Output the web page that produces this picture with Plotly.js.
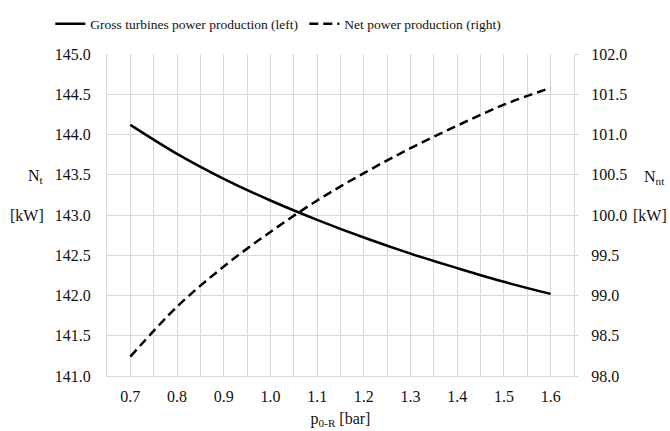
<!DOCTYPE html>
<html>
<head>
<meta charset="utf-8">
<script src="https://cdn.plot.ly/plotly-3.0.1.min.js"></script>
<style>html,body{margin:0;padding:0;background:#fff;}#chart{width:670px;height:431px;}</style>
</head>
<body>
<div id="chart"></div>
<script>
// Data
var pressure = [0.7, 0.8, 0.9, 1.0, 1.1, 1.2, 1.3, 1.4, 1.5, 1.6];
var grossPower = [144.12, 143.76, 143.45, 143.18, 142.94, 142.72, 142.52, 142.34, 142.17, 142.02];
var netPower = [98.24, 98.86, 99.36, 99.79, 100.18, 100.52, 100.83, 101.11, 101.37, 101.58];
var seriesNames = ["Gross turbines power production (left)", "Net power production (right)"];
var xTitle = "p<sub>0-R</sub> [bar]";
var leftTitle = ["N<sub>t</sub>", "[kW]"];
var rightTitle = ["N<sub>nt</sub>", "[kW]"];

var font = {family: "'Liberation Serif', 'Times New Roman', serif", size: 16, color: "#111"};
var legendFont = {family: "'Liberation Serif', 'Times New Roman', serif", size: 13.5, color: "#111"};
var grid = "#d9d9d9";

var traces = [
  {x: pressure, y: grossPower, name: seriesNames[0], type: "scatter", mode: "lines",
   line: {color: "#000", width: 2.5, shape: "spline", smoothing: 1}, yaxis: "y"},
  {x: pressure, y: netPower, name: seriesNames[1], type: "scatter", mode: "lines",
   line: {color: "#000", width: 2.5, dash: "9px,5px", shape: "spline", smoothing: 1}, yaxis: "y2"}
];

var layout = {
  width: 670, height: 431,
  margin: {l: 107, r: 96, t: 54, b: 55, autoexpand: false},
  paper_bgcolor: "#fff", plot_bgcolor: "#fff",
  font: font,
  showlegend: true,
  legend: {orientation: "h", x: -0.1214, xanchor: "left", y: 1.093, yanchor: "middle",
           font: legendFont, bgcolor: "rgba(0,0,0,0)", itemwidth: 30, tracegroupgap: 0,
           entrywidth: 209, entrywidthmode: "pixels"},
  xaxis: {
    range: [0.65, 1.65], tick0: 0.7, dtick: 0.1, tickformat: ".1f",
    showgrid: true, gridcolor: grid, gridwidth: 1,
    minor: {tick0: 0.65, dtick: 0.05, showgrid: true, gridcolor: grid, gridwidth: 1},
    showline: true, linecolor: grid, linewidth: 1, zeroline: false,
    ticks: "", ticklabelstandoff: 6,
    title: {text: xTitle, font: font, standoff: 8}
  },
  yaxis: {
    range: [141, 145], dtick: 0.5, tickformat: ".1f",
    showgrid: true, gridcolor: grid, gridwidth: 1,
    showline: true, linecolor: grid, linewidth: 1, zeroline: false,
    ticks: "", ticklabelstandoff: 12
  },
  yaxis2: {
    range: [98, 102], dtick: 0.5, tickformat: ".1f",
    overlaying: "y", side: "right", showgrid: false,
    showline: true, linecolor: grid, linewidth: 1, zeroline: false,
    ticks: "outside", ticklen: 4, tickcolor: grid, ticklabelstandoff: 9
  },
  annotations: [
    {xref: "paper", yref: "paper", x: (46 - 107) / 467, y: (376 - 176) / 322, xanchor: "right", yanchor: "middle",
     text: leftTitle[0], showarrow: false, font: font},
    {xref: "paper", yref: "paper", x: (46 - 107) / 467, y: (376 - 216) / 322, xanchor: "right", yanchor: "middle",
     text: leftTitle[1], showarrow: false, font: font},
    {xref: "paper", yref: "paper", x: (642 - 107) / 467, y: (376 - 177) / 322, xanchor: "left", yanchor: "middle",
     text: rightTitle[0], showarrow: false, font: font},
    {xref: "paper", yref: "paper", x: (669 - 107) / 467, y: (376 - 216) / 322, xanchor: "right", yanchor: "middle",
     text: rightTitle[1], showarrow: false, font: font}
  ]
};

Plotly.newPlot("chart", traces, layout, {displayModeBar: false, staticPlot: true});
</script>
</body>
</html>
